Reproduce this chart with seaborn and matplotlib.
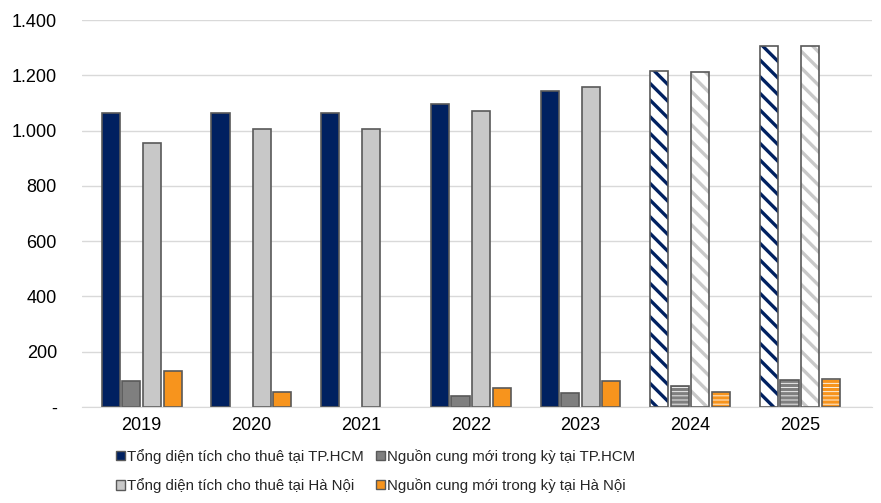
import numpy as np
import pandas as pd
import matplotlib
matplotlib.use('Agg')
import matplotlib.pyplot as plt
import matplotlib.patches as mpatches
from matplotlib.ticker import FuncFormatter
import seaborn as sns

years = ['2019', '2020', '2021', '2022', '2023', '2024', '2025']
series = ['Tổng diện tích cho thuê tại TP.HCM',
          'Nguồn cung mới trong kỳ tại TP.HCM',
          'Tổng diện tích cho thuê tại Hà Nội',
          'Nguồn cung mới trong kỳ tại Hà Nội']
hcm_total = [1065, 1065, 1065, 1095, 1143, 1215, 1306]
hcm_new = [94, 0, 0, 40, 50, 74, 98]
hn_total = [955, 1006, 1006, 1071, 1158, 1212, 1306]
hn_new = [131, 54, 0, 69, 94, 54, 101]
forecast_years = ['2024', '2025']

colors = ['#002060', '#7f7f7f', '#c8c8c8', '#f7941d']
hatches = ['\\\\', '----', '\\\\', '----']

df = pd.DataFrame({'Year': years * 4,
                   'Series': np.repeat(series, len(years)),
                   'Value': hcm_total + hcm_new + hn_total + hn_new})

sns.set_style('white')
plt.rcParams['font.family'] = ['Liberation Sans', 'DejaVu Sans']
plt.rcParams['hatch.linewidth'] = 2.4

fig, ax = plt.subplots(figsize=(8.81, 5.03), dpi=100)
fig.subplots_adjust(left=0.093, right=0.99, top=0.96, bottom=0.191)

sns.barplot(data=df, x='Year', y='Value', hue='Series', hue_order=series,
            palette=colors, saturation=1, width=0.75, gap=0.12, ax=ax,
            edgecolor='#595959', linewidth=1.2, legend=False)

# forecast years: white bars with hatch in the series colour
for i, cont in enumerate(ax.containers):
    for yr, bar in zip(years, cont):
        if bar.get_height() == 0:
            bar.set_linewidth(0)
            continue
        if yr in forecast_years:
            bar.set_facecolor('white')
            bar.set_edgecolor(colors[i])
            bar.set_hatch(hatches[i])
            bar.set_linewidth(0)
            outline = mpatches.Rectangle(bar.get_xy(), bar.get_width(), bar.get_height(),
                                         facecolor='none', edgecolor='#595959',
                                         linewidth=1.2, zorder=bar.get_zorder() + 0.1)
            ax.add_patch(outline)

ax.set_ylim(0, 1400)
ax.set_yticks(range(0, 1401, 200))
ax.yaxis.set_major_formatter(FuncFormatter(
    lambda v, p: '-' if v == 0 else f'{v:,.0f}'.replace(',', '.')))
ax.set_xlim(-0.545, 6.66)
ax.set_xlabel('')
ax.set_ylabel('')
ax.grid(axis='y', color='#d9d9d9', linewidth=1)
ax.set_axisbelow(True)
for s in ['top', 'right', 'left']:
    ax.spines[s].set_visible(False)
ax.spines['bottom'].set_color('#d9d9d9')
ax.tick_params(axis='both', length=0, labelsize=13, labelcolor='black')
ax.tick_params(axis='x', pad=7)
ax.tick_params(axis='y', pad=18)

handles = [mpatches.Patch(facecolor=c, edgecolor='#595959', linewidth=1) for c in colors]
order = [0, 2, 1, 3]
ax.legend([handles[k] for k in order], [series[k] for k in order],
          loc='upper left', bbox_to_anchor=(0.035, -0.093), ncol=2, frameon=False,
          fontsize=10.8, handlelength=0.6, handleheight=0.6, handletextpad=0.15,
          columnspacing=0.8, labelspacing=0.95, borderaxespad=0)

plt.savefig('out.png', dpi=100)
